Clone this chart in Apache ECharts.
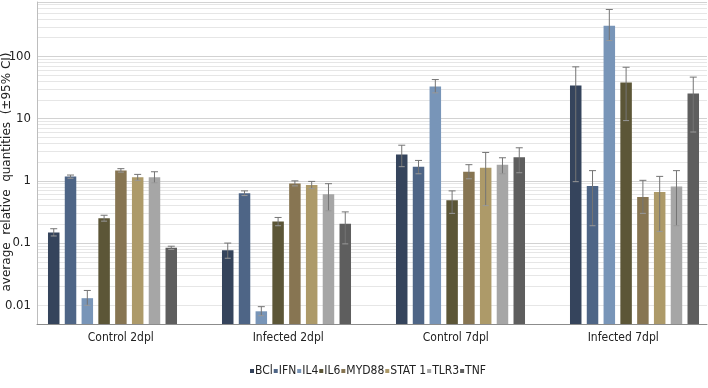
<!DOCTYPE html>
<html>
<head>
<meta charset="utf-8">
<script src="https://cdn.jsdelivr.net/npm/echarts@6/dist/echarts.min.js"></script>
<style>
  html, body { margin: 0; padding: 0; background: #fff; }
  #chart { width: 708px; height: 388px; }
</style>
</head>
<body>
<div id="chart"></div>
<script>
// 分组与基因
var categories = ['Control 2dpl', 'Infected 2dpl', 'Control 7dpl', 'Infected 7dpl'];
var genes = ['BCl', 'IFN', 'IL4', 'IL6', 'MYD88', 'STAT 1', 'TLR3', 'TNF'];
var colors = ['#35445c', '#4e6586', '#7895b8', '#5c5637', '#877552', '#ad9a69', '#a6a6a6', '#5e5e5e'];
var yTicks = [0.01, 0.1, 1, 10, 100];

// 平均值 (每组)
var BCl   = [0.148, 0.077, 2.65, 34];
var IFN   = [1.17, 0.63, 1.69, 0.83];
var IL4   = [0.013, 0.008, 32.9, 311];
var IL6   = [0.25, 0.222, 0.49, 38];
var MYD88 = [1.47, 0.91, 1.40, 0.55];
var STAT1 = [1.14, 0.857, 1.63, 0.66];
var TLR3  = [1.14, 0.61, 1.82, 0.81];
var TNF   = [0.084, 0.204, 2.40, 25.4];

// 95% CI 下限
var BCl_lo   = [0.13, 0.057, 1.69, 0.97];
var IFN_lo   = [1.1, 0.58, 1.3, 0.19];
var IL4_lo   = [0.010, 0.0068, 26, 180];
var IL6_lo   = [0.225, 0.19, 0.30, 9.3];
var MYD88_lo = [1.38, 0.83, 1.08, 0.3];
var STAT1_lo = [1.02, 0.75, 0.40, 0.154];
var TLR3_lo  = [0.93, 0.33, 1.30, 0.19];
var TNF_lo   = [0.079, 0.097, 1.35, 6.1];

// 95% CI 上限
var BCl_hi   = [0.17, 0.1, 3.74, 68];
var IFN_hi   = [1.24, 0.69, 2.13, 1.46];
var IL4_hi   = [0.0173, 0.0095, 42.5, 569];
var IL6_hi   = [0.28, 0.258, 0.69, 67];
var MYD88_hi = [1.57, 1.0, 1.82, 1.02];
var STAT1_hi = [1.27, 0.98, 2.86, 1.18];
var TLR3_hi  = [1.4, 0.9, 2.35, 1.46];
var TNF_hi   = [0.089, 0.317, 3.4, 46.5];

var means = [BCl, IFN, IL4, IL6, MYD88, STAT1, TLR3, TNF];
var lows = [BCl_lo, IFN_lo, IL4_lo, IL6_lo, MYD88_lo, STAT1_lo, TLR3_lo, TNF_lo];
var highs = [BCl_hi, IFN_hi, IL4_hi, IL6_hi, MYD88_hi, STAT1_hi, TLR3_hi, TNF_hi];

var yMin = 0.005, yMax = 750;
var barWidth = 11.5, barGap = 0.46;
var step = barWidth * (1 + barGap);
var narrow = "'Liberation Sans Narrow', 'DejaVu Sans Condensed', 'Liberation Sans', sans-serif";

// 次网格线 2..9 × 10^n
var minorLines = [];
for (var e = -3; e <= 2; e++) {
  for (var k = 2; k <= 9; k++) {
    var v = k * Math.pow(10, e);
    if (v > yMin && v < yMax) minorLines.push({ yAxis: v });
  }
}

// 误差线
function errorItem(gi) {
  return function (params, api) {
    var p1 = api.coord([api.value(0), api.value(1)]);
    var p2 = api.coord([api.value(0), api.value(2)]);
    var x = p1[0] + (gi - 3.5) * step;
    var style = { stroke: '#747474', lineWidth: 1 };
    return {
      type: 'group',
      children: [
        { type: 'line', shape: { x1: x, y1: p1[1], x2: x, y2: p2[1] }, style: style },
        { type: 'line', shape: { x1: x - 3.5, y1: p2[1], x2: x + 3.5, y2: p2[1] }, style: style },
        { type: 'line', shape: { x1: x - 3, y1: p1[1], x2: x + 3, y2: p1[1] }, style: { stroke: '#999', lineWidth: 1 } }
      ]
    };
  };
}

var series = [];
genes.forEach(function (g, gi) {
  series.push({
    name: g,
    type: 'bar',
    xAxisIndex: 0,
    yAxisIndex: 0,
    barWidth: barWidth,
    barGap: (barGap * 100) + '%',
    itemStyle: { color: colors[gi] },
    data: means[gi],
    z: 3
  });
});
genes.forEach(function (g, gi) {
  series.push({
    name: 'err-' + g,
    type: 'custom',
    xAxisIndex: 0,
    yAxisIndex: 0,
    renderItem: errorItem(gi),
    data: categories.map(function (c, ci) { return [ci, lows[gi][ci], highs[gi][ci]]; }),
    z: 5,
    silent: true
  });
});
series.push({
  name: 'grid',
  type: 'line',
  xAxisIndex: 1,
  yAxisIndex: 1,
  data: [],
  silent: true,
  z: 0,
  markLine: {
    silent: true,
    z: 0,
    symbol: 'none',
    label: { show: false },
    lineStyle: { color: '#e6e6e6', type: 'solid', width: 1 },
    data: minorLines,
    animation: false
  }
});

var myChart = echarts.init(document.getElementById('chart'));
myChart.setOption({
  animation: false,
  backgroundColor: '#fff',
  legend: {
    data: genes,
    bottom: 11,
    left: 250,
    icon: 'rect',
    itemWidth: 4,
    itemHeight: 4,
    itemGap: 1,
    padding: 0,
    textStyle: { fontFamily: narrow, fontSize: 12, color: '#222', padding: [0, 0, 0, -4] }
  },
  grid: [
    { left: 25.5, right: -13.5, top: 2, bottom: 64, outerBoundsMode: 'none', containLabel: false },
    { left: 37, right: 1, top: 2, bottom: 64, outerBoundsMode: 'none', containLabel: false }
  ],
  xAxis: [
    { type: 'category', gridIndex: 0, data: categories, show: false },
    {
      type: 'category', gridIndex: 1, data: categories,
      axisLine: { onZero: false, lineStyle: { color: '#8c8c8c' } },
      axisTick: { show: false },
      axisLabel: { fontFamily: narrow, fontSize: 12, color: '#222', margin: 8 }
    }
  ],
  yAxis: [
    { type: 'log', gridIndex: 0, min: yMin, max: yMax, startValue: yMin, show: false, splitLine: { show: false } },
    {
      type: 'log', gridIndex: 1, min: yMin, max: yMax,
      name: 'average  relative  quantities  (±95% CI)',
      nameLocation: 'middle',
      nameGap: 24,
      nameMoveOverlap: false,
      nameTextStyle: { fontFamily: 'DejaVu Sans', fontSize: 12, color: '#222', padding: [0, 18, 0, 0] },
      axisLine: { show: true, lineStyle: { color: '#bdbdbd' } },
      axisTick: { show: false },
      axisLabel: {
        fontFamily: narrow, fontSize: 13, color: '#222', margin: 6,
        showMinLabel: false, showMaxLabel: false,
        formatter: function (v) {
          for (var i = 0; i < yTicks.length; i++) {
            if (Math.abs(v - yTicks[i]) / yTicks[i] < 1e-6) return String(yTicks[i]);
          }
          return '';
        }
      },
      splitLine: { show: true, lineStyle: { color: '#d2d2d2', width: 1 } }
    }
  ],
  series: series
});
</script>
</body>
</html>
